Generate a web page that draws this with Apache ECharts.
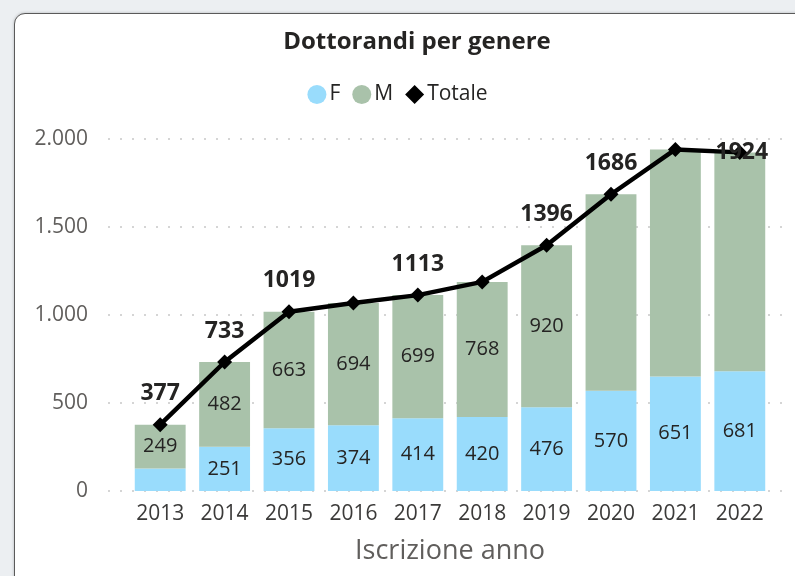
<!DOCTYPE html>
<html>
<head>
<meta charset="utf-8">
<script src="https://cdn.jsdelivr.net/npm/echarts@6/dist/echarts.min.js"></script>
<style>
  html, body { margin: 0; padding: 0; background: #eceff2; }
  .card {
    position: absolute; left: 14px; top: 13px; width: 800px; height: 580px;
    background: #fff; border: 1.5px solid #5a5a5a; border-radius: 11px;
    box-shadow: 0 0 3px rgba(0,0,0,0.25);
  }
  #chart { position: absolute; left: 0; top: 0; width: 795px; height: 576px; }
</style>
</head>
<body>
<div class="card"></div>
<div id="chart"></div>
<script>
var anni = ['2013','2014','2015','2016','2017','2018','2019','2020','2021','2022'];
var femmine = [128, 251, 356, 374, 414, 420, 476, 570, 651, 681];
var maschi = [249, 482, 663, 694, 699, 768, 920, 1116, 1290, 1243];
var totale = [377, 733, 1019, 1068, 1113, 1188, 1396, 1686, 1941, 1924];
// labels that Power BI hid
var hideF = [0];
var hideM = [7, 8, 9];
var hideTot = [3, 5, 8];

var font = '"Open Sans", "Noto Sans", sans-serif';
var fmt = function (v) { return String(v).replace(/\B(?=(\d{3})+(?!\d))/g, '.'); };

var chart = echarts.init(document.getElementById('chart'));
chart.setOption({
  textStyle: { fontFamily: font },
  animation: false,
  title: {
    text: 'Dottorandi per genere',
    left: 412, top: 25, textAlign: 'center',
    textStyle: { fontSize: 24, fontWeight: 'bold', color: '#252423', fontFamily: font }
  },
  legend: {
    top: 79, left: 'center',
    itemGap: 12, itemWidth: 19, itemHeight: 19,
    textStyle: { fontSize: 21, color: '#252423', padding: [0, 0, 0, -2] },
    data: [
      { name: 'F', icon: 'circle' },
      { name: 'M', icon: 'circle' },
      { name: 'Totale', icon: 'diamond' }
    ]
  },
  grid: [
    { left: 108, right: 7, top: 139, bottom: 85 },
    { left: 128, right: 23, top: 139, bottom: 85 }
  ],
  xAxis: [
    { gridIndex: 0, type: 'value', show: false, min: 0, max: 1 },
    {
      gridIndex: 1, type: 'category', data: anni,
      axisLine: { show: false }, axisTick: { show: false },
      axisLabel: { fontSize: 21, color: '#3b3a39', margin: 13 },
      name: 'Iscrizione anno', nameLocation: 'middle', nameGap: 47,
      nameTextStyle: { fontSize: 27, color: '#605e5c' }
    }
  ],
  yAxis: [
    {
      gridIndex: 0, type: 'value', min: 0, max: 2000, interval: 500,
      axisLine: { show: false }, axisTick: { show: false },
      axisLabel: { fontSize: 21, color: '#605e5c', margin: 20, formatter: fmt },
      splitLine: { lineStyle: { color: '#c8c8c8', width: 1.5, type: [2, 10] } }
    },
    {
      gridIndex: 1, type: 'value', min: 0, max: 2000, interval: 500,
      show: false, splitLine: { show: false }
    }
  ],
  series: [
    {
      name: 'F', type: 'bar', stack: 'g', xAxisIndex: 1, yAxisIndex: 1,
      barCategoryGap: '21%',
      itemStyle: { color: '#99dcfc' },
      label: {
        show: true, position: 'inside', fontSize: 20, color: '#252423',
        formatter: function (p) { return hideF.indexOf(p.dataIndex) >= 0 ? '' : p.value; }
      },
      data: femmine
    },
    {
      name: 'M', type: 'bar', stack: 'g', xAxisIndex: 1, yAxisIndex: 1,
      itemStyle: { color: '#a9c2aa' },
      label: {
        show: true, position: 'inside', fontSize: 20, color: '#252423',
        formatter: function (p) { return hideM.indexOf(p.dataIndex) >= 0 ? '' : p.value; }
      },
      data: maschi
    },
    {
      name: 'Totale', type: 'line', xAxisIndex: 1, yAxisIndex: 1,
      symbol: 'diamond', symbolSize: 15,
      lineStyle: { color: '#000', width: 4.5 },
      itemStyle: { color: '#000' },
      label: {
        show: true, position: 'top', distance: 12, fontSize: 23, fontWeight: 'bold', color: '#252423',
        formatter: function (p) { return hideTot.indexOf(p.dataIndex) >= 0 ? '' : p.value; }
      },
      data: totale.map(function (v, i) {
        return i === totale.length - 1 ? { value: v, label: { position: 'inside', offset: [2, 0] } } : v;
      })
    }
  ]
});
</script>
</body>
</html>
